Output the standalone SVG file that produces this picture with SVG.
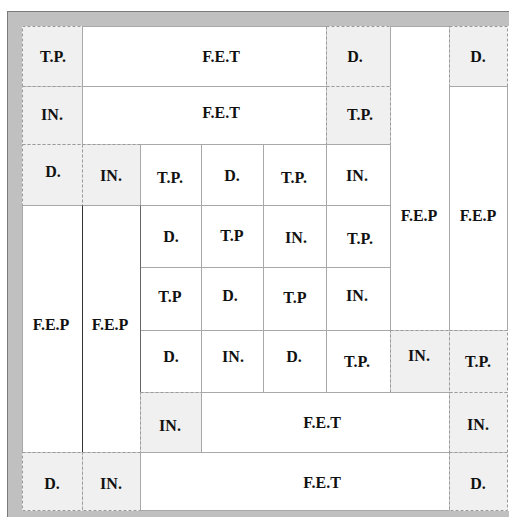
<svg xmlns="http://www.w3.org/2000/svg" width="509" height="517" viewBox="0 0 509 517">
<style>
.g{fill:#f0f0f0;stroke:#9a9a9a;stroke-width:1;stroke-dasharray:3,2}
.w{fill:#ffffff;stroke:#a8a8a8;stroke-width:1}
text{font-family:"Liberation Serif","Times New Roman",serif;font-weight:bold;font-size:16px;fill:#111;text-anchor:middle}
</style>
<rect x="0" y="0" width="509" height="517" fill="#ffffff"/>
<rect x="7.5" y="11.5" width="502" height="506" fill="#c0c0c0" stroke="#7a7a7a" stroke-width="1"/>
<rect x="22" y="26" width="487" height="485" fill="#ffffff"/>
<g id="r0c0"><rect class="g" x="22.5" y="26.5" width="60" height="60"/><text x="53" y="62">T.P.</text></g>
<g id="r0fet"><rect class="w" x="82.5" y="26.5" width="244" height="60"/><text x="221" y="62">F.E.T</text></g>
<g id="r0c5"><rect class="g" x="326.5" y="26.5" width="64" height="60"/><text x="355" y="62">D.</text></g>
<g id="r0fep"><rect class="w" x="390.5" y="26.5" width="59" height="304"/><text x="419" y="221">F.E.P</text></g>
<g id="r0c7"><rect class="g" x="449.5" y="26.5" width="58" height="60"/><text x="478" y="62">D.</text></g>
<g id="r1c0"><rect class="g" x="22.5" y="86.5" width="60" height="58"/><text x="52" y="120">IN.</text></g>
<g id="r1fet"><rect class="w" x="82.5" y="86.5" width="244" height="58"/><text x="221" y="118">F.E.T</text></g>
<g id="r1c5"><rect class="g" x="326.5" y="86.5" width="64" height="58"/><text x="360" y="120">T.P.</text></g>
<g id="r1fep"><rect class="w" x="449.5" y="86.5" width="58" height="244"/><text x="478" y="221">F.E.P</text></g>
<g id="r2c0"><rect class="g" x="22.5" y="144.5" width="60" height="61"/><text x="53" y="177">D.</text></g>
<g id="r2c1"><rect class="g" x="82.5" y="144.5" width="58" height="61"/><text x="111" y="181">IN.</text></g>
<g id="r2c2"><rect class="w" x="140.5" y="144.5" width="61" height="61"/><text x="170" y="183">T.P.</text></g>
<g id="r2c3"><rect class="w" x="201.5" y="144.5" width="62" height="61"/><text x="232" y="181">D.</text></g>
<g id="r2c4"><rect class="w" x="263.5" y="144.5" width="63" height="61"/><text x="294" y="183">T.P.</text></g>
<g id="r2c5"><rect class="w" x="326.5" y="144.5" width="64" height="61"/><text x="357" y="181">IN.</text></g>
<g id="r3fep0"><rect class="w" x="22.5" y="205.5" width="60" height="247"/><text x="51" y="330">F.E.P</text></g>
<g id="r3fep1"><rect class="w" x="82.5" y="205.5" width="58" height="247"/><text x="110" y="330">F.E.P</text></g>
<g id="r3c2"><rect class="w" x="140.5" y="205.5" width="61" height="62"/><text x="171" y="242">D.</text></g>
<g id="r3c3"><rect class="w" x="201.5" y="205.5" width="62" height="62"/><text x="232" y="241">T.P</text></g>
<g id="r3c4"><rect class="w" x="263.5" y="205.5" width="63" height="62"/><text x="296" y="243">IN.</text></g>
<g id="r3c5"><rect class="w" x="326.5" y="205.5" width="64" height="62"/><text x="360" y="244">T.P.</text></g>
<g id="r4c2"><rect class="w" x="140.5" y="267.5" width="61" height="63"/><text x="170" y="302">T.P</text></g>
<g id="r4c3"><rect class="w" x="201.5" y="267.5" width="62" height="63"/><text x="230" y="301">D.</text></g>
<g id="r4c4"><rect class="w" x="263.5" y="267.5" width="63" height="63"/><text x="295" y="303">T.P</text></g>
<g id="r4c5"><rect class="w" x="326.5" y="267.5" width="64" height="63"/><text x="357" y="301">IN.</text></g>
<g id="r5c2"><rect class="w" x="140.5" y="330.5" width="61" height="62"/><text x="171" y="362">D.</text></g>
<g id="r5c3"><rect class="w" x="201.5" y="330.5" width="62" height="62"/><text x="233" y="362">IN.</text></g>
<g id="r5c4"><rect class="w" x="263.5" y="330.5" width="63" height="62"/><text x="294" y="362">D.</text></g>
<g id="r5c5"><rect class="w" x="326.5" y="330.5" width="64" height="62"/><text x="357" y="367">T.P.</text></g>
<g id="r5c6"><rect class="g" x="390.5" y="330.5" width="59" height="62"/><text x="419" y="361">IN.</text></g>
<g id="r5c7"><rect class="g" x="449.5" y="330.5" width="58" height="62"/><text x="478" y="367">T.P.</text></g>
<g id="r6c2"><rect class="g" x="140.5" y="392.5" width="61" height="60"/><text x="170" y="431">IN.</text></g>
<g id="r6fet"><rect class="w" x="201.5" y="392.5" width="248" height="60"/><text x="322" y="428">F.E.T</text></g>
<g id="r6c7"><rect class="g" x="449.5" y="392.5" width="58" height="60"/><text x="478" y="430">IN.</text></g>
<g id="r7c0"><rect class="g" x="22.5" y="452.5" width="60" height="58"/><text x="52" y="489">D.</text></g>
<g id="r7c1"><rect class="g" x="82.5" y="452.5" width="58" height="58"/><text x="111" y="489">IN.</text></g>
<g id="r7fet"><rect class="w" x="140.5" y="452.5" width="309" height="58"/><text x="322" y="488">F.E.T</text></g>
<g id="r7c7"><rect class="g" x="449.5" y="452.5" width="58" height="58"/><text x="478" y="489">D.</text></g>
<g id="connectors">
<line x1="82.5" y1="205.5" x2="82.5" y2="452" stroke="#333" stroke-width="1"/>
<line x1="140.5" y1="205.5" x2="140.5" y2="392" stroke="#666" stroke-width="1"/>
</g>
</svg>
